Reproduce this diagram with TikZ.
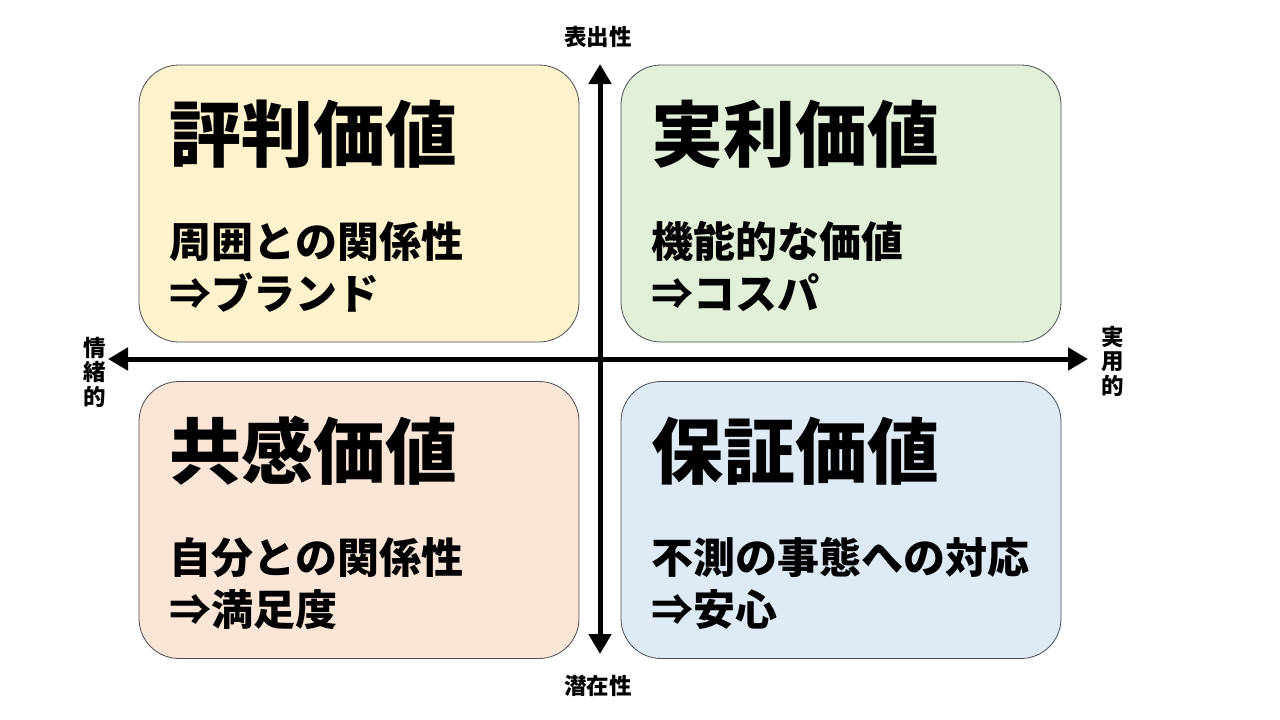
\documentclass[tikz,border=0pt]{standalone}
\usepackage{fontspec}
\newfontfamily\jp{Noto Sans CJK JP}
\usetikzlibrary{arrows.meta, positioning, calc}
\definecolor{Cream}{HTML}{FFF2CC}
\definecolor{Mint}{HTML}{E2F0D9}
\definecolor{Peach}{HTML}{FBE5D6}
\definecolor{Sky}{HTML}{DEEBF7}
\definecolor{Rim}{HTML}{4A4F55}

\begin{document}
\begin{tikzpicture}[
      x=1pt, y=-1pt,
      quad/.style={draw=Rim, line width=0.8pt, rounded corners=40pt,
                   minimum width=440pt, minimum height=277pt, inner sep=0pt},
      title/.style={anchor=west, inner sep=0pt,
                    font={\jp\bfseries\fontsize{72}{72}\selectfont}},
      body/.style={anchor=west, inner sep=0pt, align=left,
                   font={\jp\bfseries\fontsize{42}{52}\selectfont}},
      axlab/.style={inner sep=0pt, align=center,
                    font={\jp\bfseries\fontsize{22.5}{24.5}\selectfont}},
      axis/.style={line width=5pt, {Triangle[length=20pt, width=22pt]}-{Triangle[length=20pt, width=22pt]}}
    ]
      \useasboundingbox (0,0) rectangle (1280,720);

      % four quadrants
      \node[quad, fill=Cream] (rep) at (359,203.5) {};
      \node[quad, fill=Mint]  (gain) at (841,203.5) {};
      \node[quad, fill=Peach] (emp) at (359,520) {};
      \node[quad, fill=Sky]   (safe) at (841,520) {};

      \node[title] (repT) at ([shift={(31,70)}]rep.north west) {評判価値};
      \node[body]  (repB) at ([shift={(31,202)}]rep.north west) {周囲との関係性\\⇒ブランド};
      \node[title] (gainT) at ([shift={(31,70)}]gain.north west) {実利価値};
      \node[body]  (gainB) at ([shift={(31,202)}]gain.north west) {機能的な価値\\⇒コスパ};
      \node[title] (empT) at ([shift={(31,70)}]emp.north west) {共感価値};
      \node[body]  (empB) at ([shift={(31,202)}]emp.north west) {自分との関係性\\⇒満足度};
      \node[title] (safeT) at ([shift={(31,70)}]safe.north west) {保証価値};
      \node[body]  (safeB) at ([shift={(31,202)}]safe.north west) {不測の事態への対応\\⇒安心};

      % axes
      \coordinate (top) at (600,64);
      \coordinate (bot) at (600,654);
      \coordinate (lft) at (108,359);
      \coordinate (rgt) at (1088,359);
      \draw[axis] (bot) -- (top);
      \draw[axis] (lft) -- (rgt);

      \node[axlab] (expr) at (598,37) {表出性};
      \node[axlab] (latent) at (598,686) {潜在性};
      \node[axlab] (emo) at (95,372) {情\\緒\\的};
      \node[axlab] (prac) at (1113,361) {実\\用\\的};
    \end{tikzpicture}
\end{document}
